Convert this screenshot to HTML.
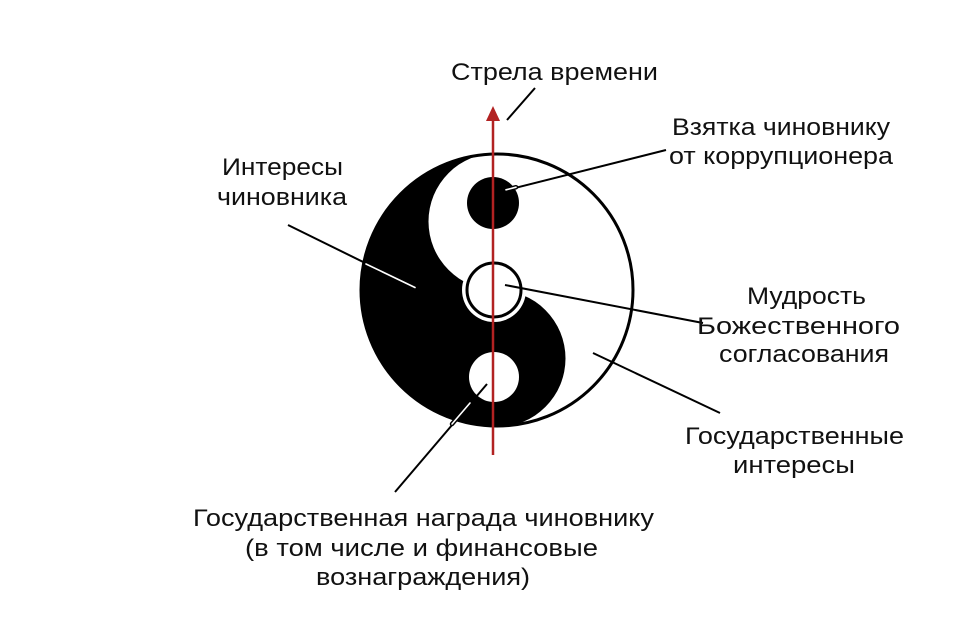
<!DOCTYPE html>
<html><head><meta charset="utf-8"><style>html,body{margin:0;padding:0;background:#fff}svg{display:block}</style></head>
<body>
<svg width="975" height="636" viewBox="0 0 975 636" xmlns="http://www.w3.org/2000/svg">
<rect width="975" height="636" fill="#fff"/>
<circle cx="497" cy="290" r="136" fill="#fff" stroke="#000" stroke-width="3"/>
<path d="M497 153 A68.5 68.5 0 0 0 497 290 A68.5 68.5 0 0 1 497 427 A137 137 0 0 1 497 153 Z" fill="#000"/>
<circle cx="493" cy="203" r="26" fill="#000"/>
<circle cx="494" cy="377" r="25" fill="#fff"/>
<circle cx="494" cy="290" r="32" fill="#fff"/>
<circle cx="494" cy="290" r="27" fill="#fff" stroke="#000" stroke-width="3"/>
<!-- leaders -->
<g stroke="#000" stroke-width="2" fill="none">
<line x1="535" y1="88" x2="507" y2="120"/>
<line x1="666" y1="150" x2="507" y2="190"/>
<line x1="288" y1="225" x2="416" y2="288"/>
<line x1="505" y1="285" x2="703" y2="323"/>
<line x1="593" y1="353" x2="720" y2="413"/>
<line x1="395" y1="492" x2="487" y2="384"/>
</g>
<g stroke="#000" stroke-width="4.5" stroke-linecap="round">
<line x1="366" y1="264" x2="415" y2="287.5"/>
<line x1="506" y1="189.8" x2="516" y2="187.2"/>
<line x1="452" y1="424" x2="470" y2="403"/>
</g>
<g stroke="#fff" stroke-width="1.6" stroke-linecap="round">
<line x1="366" y1="264" x2="415" y2="287.5"/>
<line x1="506" y1="189.8" x2="516" y2="187.2"/>
<line x1="452" y1="424" x2="470" y2="403"/>
</g>
<!-- arrow -->
<line x1="493" y1="118" x2="493" y2="455" stroke="#b22222" stroke-width="2.5"/>
<polygon points="493,106 486,121 500,121" fill="#b22222"/>
<g font-family="'Liberation Sans Narrow','Liberation Sans',sans-serif" font-size="24" fill="#111">
<text x="451" y="80" textLength="207" lengthAdjust="spacingAndGlyphs">Стрела времени</text>
<text x="672" y="135" textLength="218" lengthAdjust="spacingAndGlyphs">Взятка чиновнику</text>
<text x="669" y="164" textLength="224" lengthAdjust="spacingAndGlyphs">от коррупционера</text>
<text x="222" y="175" textLength="121" lengthAdjust="spacingAndGlyphs">Интересы</text>
<text x="217" y="205" textLength="130" lengthAdjust="spacingAndGlyphs">чиновника</text>
<text x="747" y="304" textLength="119" lengthAdjust="spacingAndGlyphs">Мудрость</text>
<text x="697" y="334" textLength="203" lengthAdjust="spacingAndGlyphs">Божественного</text>
<text x="719" y="362" textLength="170" lengthAdjust="spacingAndGlyphs">согласования</text>
<text x="685" y="444" textLength="219" lengthAdjust="spacingAndGlyphs">Государственные</text>
<text x="733" y="473" textLength="122" lengthAdjust="spacingAndGlyphs">интересы</text>
<text x="193" y="526" textLength="461" lengthAdjust="spacingAndGlyphs">Государственная награда чиновнику</text>
<text x="245" y="556" textLength="353" lengthAdjust="spacingAndGlyphs">(в том числе и финансовые</text>
<text x="316" y="585" textLength="214" lengthAdjust="spacingAndGlyphs">вознаграждения)</text>
</g>
</svg>
</body></html>
